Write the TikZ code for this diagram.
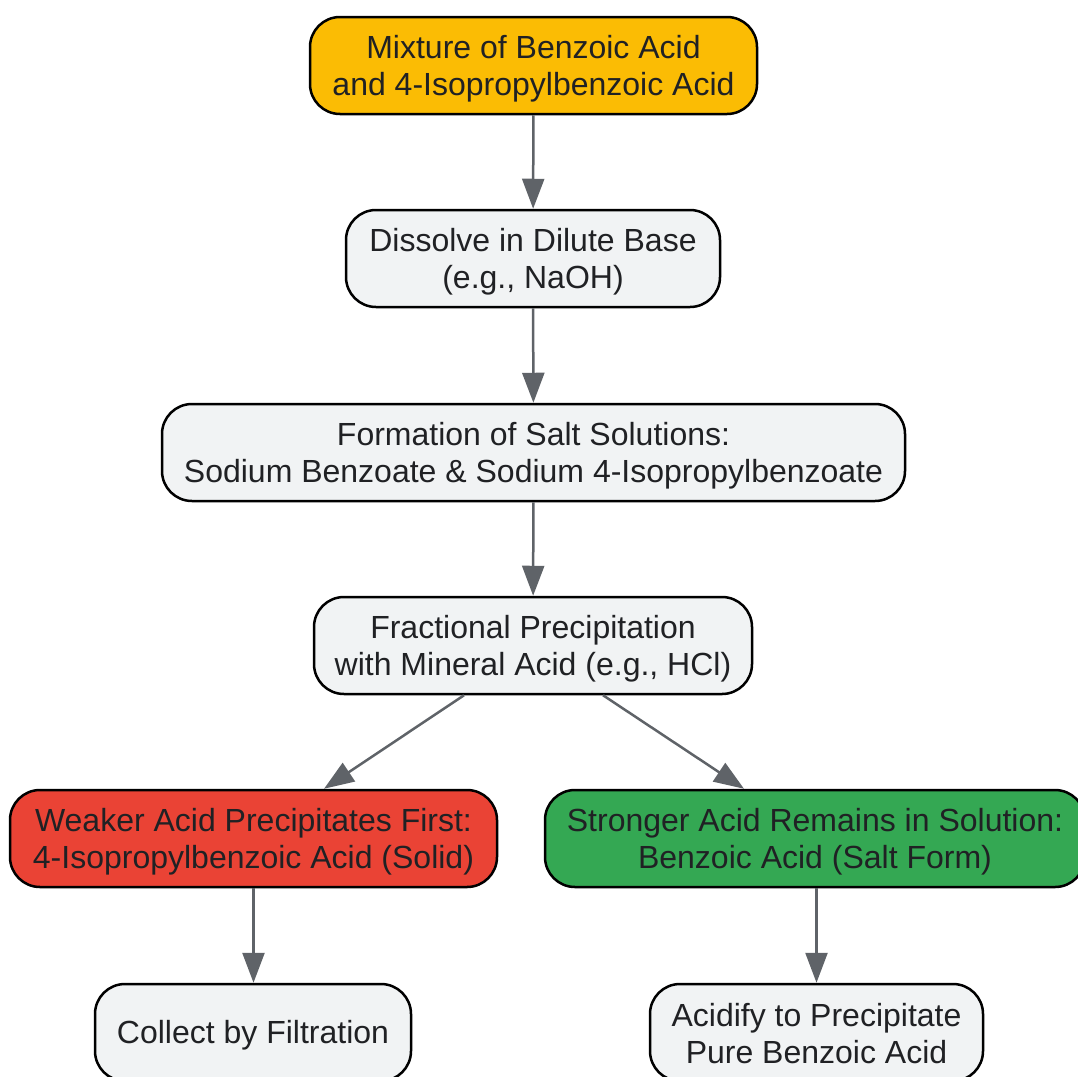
\documentclass[tikz,border=0pt]{standalone}
\usepackage{fontspec}
\setmainfont{Liberation Sans}
\usetikzlibrary{arrows.meta}
\definecolor{cOrange}{HTML}{FBBC04}
\definecolor{cGray}{HTML}{F1F3F4}
\definecolor{cRed}{HTML}{EA4335}
\definecolor{cGreen}{HTML}{34A853}
\definecolor{cText}{HTML}{202124}
\definecolor{cEdge}{HTML}{5F6368}
\tikzset{
  box/.style={draw=black, line width=2.5pt, rounded corners=30pt, inner sep=0pt, minimum height=97pt},
  txt/.style={align=center, text=cText, font=\fontsize{32}{37}\selectfont, inner sep=0pt},
  flow/.style={draw=cEdge, line width=2.5pt, -{Triangle[length=30pt,width=22pt]}}
}
\begin{document}
\begin{tikzpicture}[x=1pt,y=-1pt]
\useasboundingbox (0,0) rectangle (1078,1076);
\clip (0,0) rectangle (1078,1076);
\node[box, fill=cOrange, minimum width=447pt] (n1) at (533.5,65.5) {};
\node[box, fill=cGray, minimum width=374pt] (n2) at (533,258.5) {};
\node[box, fill=cGray, minimum width=743pt] (n3) at (533.5,452.5) {};
\node[box, fill=cGray, minimum width=438pt] (n4) at (533,645.5) {};
\node[box, fill=cRed, minimum width=487pt] (n5) at (253.5,838.5) {};
\node[box, fill=cGreen, minimum width=540pt] (n6) at (815,838.5) {};
\node[box, fill=cGray, minimum width=316pt] (n7) at (253,1032.5) {};
\node[box, fill=cGray, minimum width=333pt] (n8) at (816.5,1032.5) {};
\node[txt] (t1) at ([yshift=-3.5pt]n1.center) {Mixture of Benzoic Acid\\and 4-Isopropylbenzoic Acid};
\node[txt] (t2) at ([yshift=-3.5pt]n2.center) {Dissolve in Dilute Base\\(e.g., NaOH)};
\node[txt] (t3) at ([yshift=-3.5pt]n3.center) {Formation of Salt Solutions:\\Sodium Benzoate \& Sodium 4-Isopropylbenzoate};
\node[txt] (t4) at ([yshift=-3.5pt]n4.center) {Fractional Precipitation\\with Mineral Acid (e.g., HCl)};
\node[txt] (t5) at ([yshift=-3.5pt]n5.center) {Weaker Acid Precipitates First:\\4-Isopropylbenzoic Acid (Solid)};
\node[txt] (t6) at ([yshift=-3.5pt]n6.center) {Stronger Acid Remains in Solution:\\Benzoic Acid (Salt Form)};
\node[txt] (t7) at ([yshift=-3pt]n7.center) {Collect by Filtration};
\node[txt] (t8) at ([yshift=-1pt]n8.center) {Acidify to Precipitate\\Pure Benzoic Acid};
\draw[flow] (n1) -- (n2);
\draw[flow] (n2) -- (n3);
\draw[flow] (n3) -- (n4);
\draw[flow] ([xshift=-69pt]n4.south) -- ([xshift=70.5pt]n5.north);
\draw[flow] ([xshift=70pt]n4.south) -- ([xshift=-71pt]n6.north);
\draw[flow] (n5.south) -- (n5.south |- n7.north);
\draw[flow] (n6.south -| n8.north) -- (n8.north);
\end{tikzpicture}
\end{document}
